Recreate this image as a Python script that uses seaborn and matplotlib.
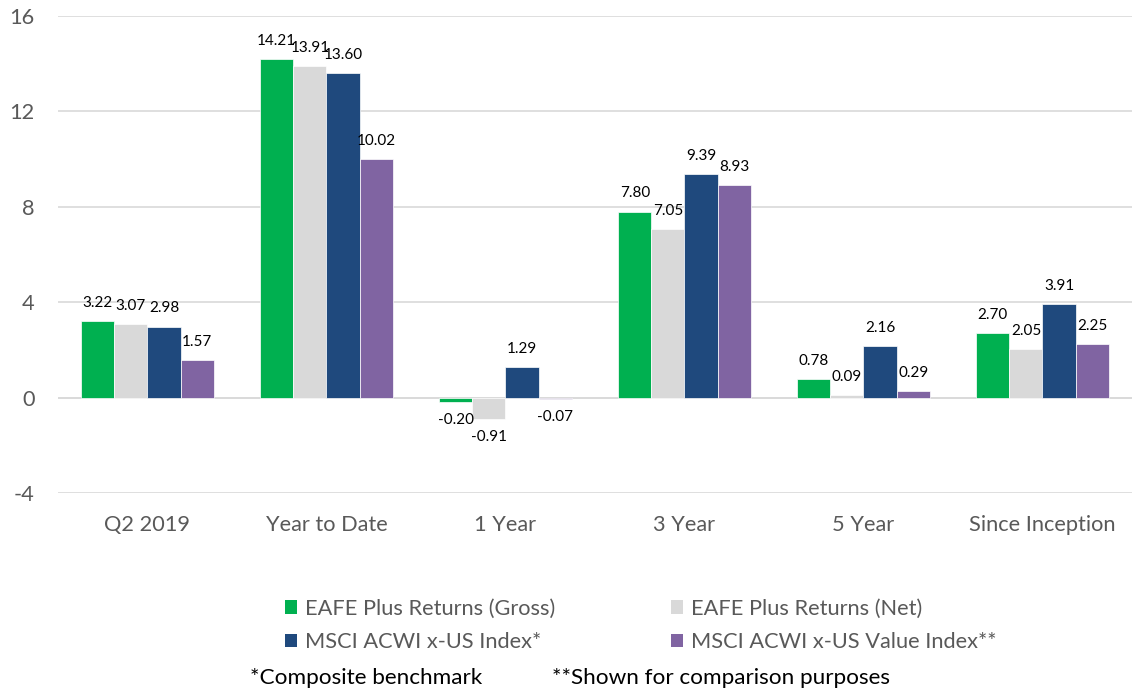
import matplotlib
matplotlib.use("Agg")
import matplotlib.pyplot as plt
import seaborn as sns
import pandas as pd
from matplotlib.patches import Patch

categories = ["Q2 2019", "Year to Date", "1 Year", "3 Year", "5 Year", "Since Inception"]
series_names = ["EAFE Plus Returns (Gross)", "EAFE Plus Returns (Net)",
                "MSCI ACWI x-US Index*", "MSCI ACWI x-US Value Index**"]
gross = [3.22, 14.21, -0.20, 7.80, 0.78, 2.70]
net = [3.07, 13.91, -0.91, 7.05, 0.09, 2.05]
acwi = [2.98, 13.60, 1.29, 9.39, 2.16, 3.91]
value = [1.57, 10.02, -0.07, 8.93, 0.29, 2.25]
yticks = [-4, 0, 4, 8, 12, 16]
footnotes = ["*Composite benchmark", "**Shown for comparison purposes"]

colors = ["#00B050", "#D9D9D9", "#1F497D", "#8064A2"]

rows = []
for name, vals in zip(series_names, [gross, net, acwi, value]):
    for c, v in zip(categories, vals):
        rows.append({"Period": c, "Series": name, "Return": v})
df = pd.DataFrame(rows)

sns.set_theme(style="white")
plt.rcParams["font.family"] = ["Lato", "DejaVu Sans"]
plt.rcParams["axes.unicode_minus"] = False

fig = plt.figure(figsize=(11.37, 6.93), dpi=100)
ax = fig.add_axes([0.051, 0.2886, 0.9446, 0.6883])

sns.barplot(data=df, x="Period", y="Return", hue="Series", order=categories,
            hue_order=series_names, palette=colors, width=0.74, saturation=1,
            edgecolor="white", linewidth=0.5, ax=ax, legend=False)

for cont in ax.containers:
    ax.bar_label(cont, fmt="%.2f", padding=8, fontsize=11, color="black")

ax.set_ylim(-4, 16)
ax.set_yticks(yticks)
ax.set_xlim(-0.5, len(categories) - 0.5)
ax.yaxis.grid(True, color="#D9D9D9", linewidth=1.2)
ax.set_axisbelow(True)
for s in ax.spines.values():
    s.set_visible(False)
ax.axhline(0, color="#D9D9D9", linewidth=1.2, zorder=0.5)
ax.set_xlabel("")
ax.set_ylabel("")
ax.tick_params(axis="both", length=0, labelsize=15.7, labelcolor="#595959")
ax.tick_params(axis="y", pad=17)
ax.tick_params(axis="x", pad=16)

# row-major order in the legend: reorder for matplotlib's column filling
order = [0, 2, 1, 3]
handles = [Patch(facecolor=colors[i], edgecolor="none") for i in order]
labels = [series_names[i] for i in order]
fig.legend(handles, labels, loc="center left", bbox_to_anchor=(0.2507, 0.0975),
           ncol=2, frameon=False, fontsize=15.7, labelcolor="#595959",
           handlelength=0.55, handleheight=0.55, handletextpad=0.37,
           columnspacing=5.3, labelspacing=0.62, borderpad=0, borderaxespad=0)

fig.text(250 / 1137, 0.021, footnotes[0], fontsize=16.2, color="black", ha="left", va="center")
fig.text(552 / 1137, 0.021, footnotes[1], fontsize=16.2, color="black", ha="left", va="center")

fig.savefig("out.png", dpi=100)
